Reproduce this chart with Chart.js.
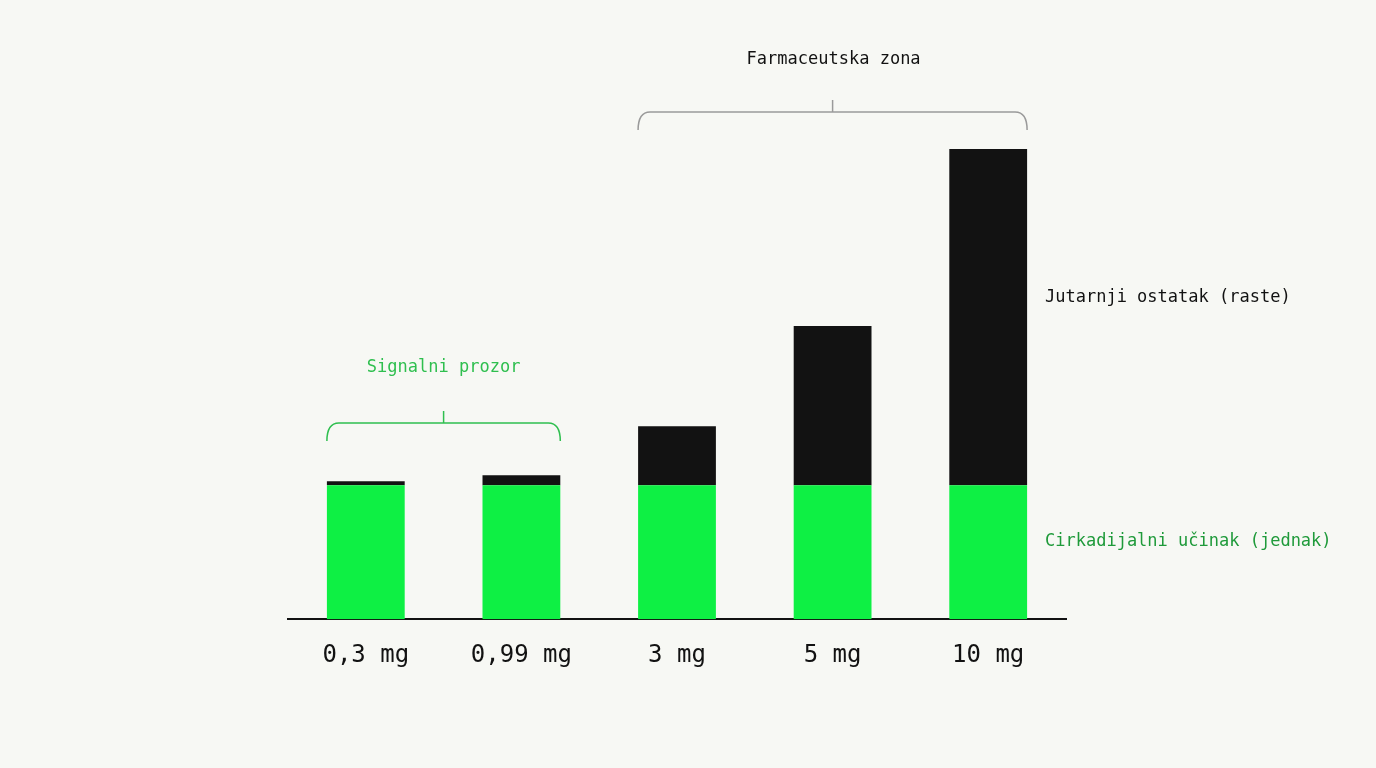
<!DOCTYPE html>
<html>
<head>
<meta charset="utf-8">
<script src="https://cdn.jsdelivr.net/npm/chart.js@4/dist/chart.umd.min.js"></script>
<style>
  body { margin: 0; background: #f7f8f4; }
  canvas { display: block; }
</style>
</head>
<body>
<canvas id="chart" width="1376" height="768"></canvas>
<script>
const doses = ['0,3 mg', '0,99 mg', '3 mg', '5 mg', '10 mg'];
const circadian = [134, 134, 134, 134, 134];
const residue = [4, 10, 59, 159, 336];

const mono = '"DejaVu Sans Mono", monospace';
const green = '#0ef044';
const dark = '#121212';

function bracket(ctx, x1, x2, y, color) {
    const mid = (x1 + x2) / 2;
    ctx.strokeStyle = color;
    ctx.lineWidth = 1.5;
    ctx.beginPath();
    ctx.moveTo(x1, y + 18);
    ctx.quadraticCurveTo(x1, y, x1 + 12, y);
    ctx.lineTo(x2 - 12, y);
    ctx.quadraticCurveTo(x2, y, x2, y + 18);
    ctx.moveTo(mid, y);
    ctx.lineTo(mid, y - 12);
    ctx.stroke();
}

const notes = {
    id: 'notes',
    afterDraw(chart) {
        const ctx = chart.ctx;
        const x = chart.scales.x;
        const half = (x.getPixelForValue(1) - x.getPixelForValue(0)) * 0.25;
        ctx.save();
        bracket(ctx, x.getPixelForValue(0) - half, x.getPixelForValue(1) + half, 423, '#2fbf4f');
        bracket(ctx, x.getPixelForValue(2) - half, x.getPixelForValue(4) + half, 112, '#9a9a9a');
        ctx.font = '17px ' + mono;
        ctx.textAlign = 'center';
        ctx.textBaseline = 'middle';
        ctx.fillStyle = '#2fbf4f';
        ctx.fillText('Signalni prozor', (x.getPixelForValue(0) + x.getPixelForValue(1)) / 2, 368);
        ctx.fillStyle = dark;
        ctx.fillText('Farmaceutska zona', (x.getPixelForValue(2) + x.getPixelForValue(4)) / 2 + 1, 60);
        ctx.textAlign = 'left';
        ctx.fillText('Jutarnji ostatak (raste)', 1045, 298);
        ctx.fillStyle = '#1f9a3a';
        ctx.fillText('Cirkadijalni učinak (jednak)', 1045, 542);
        ctx.restore();
    }
};

new Chart(document.getElementById('chart'), {
    type: 'bar',
    data: {
        labels: doses,
        datasets: [
            { label: 'Cirkadijalni učinak', data: circadian, backgroundColor: green },
            { label: 'Jutarnji ostatak', data: residue, backgroundColor: dark }
        ]
    },
    options: {
        responsive: false,
        animation: false,
        layout: { padding: { left: 288, right: 310, top: 100, bottom: 76 } },
        datasets: { bar: { barPercentage: 1, categoryPercentage: 0.5 } },
        plugins: { legend: { display: false }, tooltip: { enabled: false } },
        scales: {
            x: {
                stacked: true,
                grid: { display: false, drawTicks: false },
                border: { color: dark, width: 2 },
                ticks: { color: dark, padding: 22, font: { family: mono, size: 24 } }
            },
            y: { stacked: true, display: false, min: 0, max: 519 }
        }
    },
    plugins: [notes]
});
</script>
</body>
</html>
